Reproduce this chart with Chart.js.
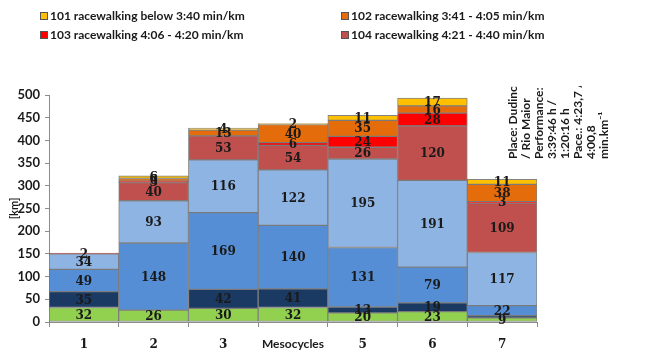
<!DOCTYPE html>
<html>
<head>
<meta charset="utf-8">
<script src="https://cdn.jsdelivr.net/npm/chart.js@4"></script>
<style>
  html, body { margin: 0; padding: 0; background: #fff; }
  #wrap { width: 650px; height: 356px; position: relative; }
</style>
</head>
<body>
<div id="wrap"><canvas id="c" width="650" height="356"></canvas></div>
<script>
// Mesocycle categories and weekly volume (km) per pace zone, stacked bottom to top
const mesocycles = ['1', '2', '3', '4', '5', '6', '7'];
const zoneA   = [32, 26, 30, 32, 20, 23, 9];      // green base
const zoneB   = [35, 0, 42, 41, 13, 19, 5];       // dark navy
const zoneC   = [49, 148, 169, 140, 131, 79, 22]; // mid blue
const zoneD   = [34, 93, 116, 122, 195, 191, 117];// light blue
const zone104 = [2, 40, 53, 54, 26, 120, 109];
const zone103 = [0, 3, 0, 6, 24, 28, 3];
const zone102 = [0, 6, 13, 40, 35, 16, 38];
const zone101 = [0, 6, 4, 2, 11, 17, 11];

const noteLines = ['Place: Dudince', '/ Rio Maior', 'Performance:', '3:39:46 h /',
                   '1:20:16 h', 'Pace.: 4:23,7 /', '4:00,8', 'min.km\u207B\u00B9'];

const INK = '#1a1a1a';
const EDGE = 'rgba(110,110,110,0.85)';

function ds(label, data, color, inLegend) {
  return { label, data, backgroundColor: color, borderColor: EDGE, borderWidth: 1,
           borderSkipped: false, barPercentage: 1, categoryPercentage: 1, inLegend };
}

const datasets = [
  ds('Zone A', zoneA, '#92d050', false),
  ds('Zone B', zoneB, '#1b3a63', false),
  ds('Zone C', zoneC, '#558ed5', false),
  ds('Zone D', zoneD, '#8eb4e3', false),
  ds('104 racewalking 4:21 - 4:40 min/km', zone104, '#c0504d', true),
  ds('103 racewalking 4:06 - 4:20 min/km', zone103, '#ff0000', true),
  ds('102 racewalking 3:41 - 4:05 min/km', zone102, '#e46c0a', true),
  ds('101 racewalking below 3:40 min/km', zone101, '#ffc000', true)
];

// legend order: two columns, two rows
const legendOrder = [7, 6, 5, 4];

const segmentLabels = {
  id: 'segmentLabels',
  afterDatasetsDraw(chart) {
    const ctx = chart.ctx;
    ctx.save();
    ctx.font = 'bold 12px "DejaVu Serif"';
    ctx.fillStyle = INK;
    ctx.textAlign = 'center';
    ctx.textBaseline = 'middle';
    chart.data.datasets.forEach((d, di) => {
      const meta = chart.getDatasetMeta(di);
      meta.data.forEach((bar, i) => {
        const v = d.data[i];
        if (!v || (di === 1 && i === 6)) return;
        ctx.fillText(String(v), bar.x, (bar.y + bar.base) / 2 + 1);
      });
    });
    ctx.restore();
  }
};

const sideDecor = {
  id: 'sideDecor',
  afterDraw(chart) {
    const ctx = chart.ctx;
    ctx.save();
    // legend
    ctx.font = 'bold 12px Lato';
    ctx.textBaseline = 'middle';
    ctx.textAlign = 'left';
    const cols = [40, 341], rows = [16, 35];
    legendOrder.forEach((di, k) => {
      const d = chart.data.datasets[di];
      const x = cols[k % 2], y = rows[Math.floor(k / 2)];
      ctx.fillStyle = d.backgroundColor;
      ctx.fillRect(x, y - 4, 8, 8);
      ctx.strokeStyle = '#555';
      ctx.lineWidth = 1;
      ctx.strokeRect(x + 0.5, y - 3.5, 7, 7);
      ctx.fillStyle = INK;
      ctx.fillText(d.label, x + 10, y);
    });
    // rotated note at right
    ctx.beginPath();
    ctx.rect(500, 86, 150, 120);
    ctx.clip();
    ctx.font = 'bold 12px Lato';
    noteLines.forEach((t, i) => {
      ctx.save();
      ctx.translate(513 + i * 13, 159);
      ctx.rotate(-Math.PI / 2);
      ctx.textAlign = 'left';
      ctx.textBaseline = 'middle';
      ctx.fillStyle = INK;
      ctx.fillText(t, 0, 0);
      ctx.restore();
    });
    ctx.restore();
  }
};

new Chart(document.getElementById('c'), {
  type: 'bar',
  data: { labels: mesocycles, datasets },
  options: {
    responsive: false,
    animation: false,
    devicePixelRatio: 1,
    layout: { padding: { top: 95, right: 113, bottom: 0, left: 0 } },
    plugins: { legend: { display: false }, tooltip: { enabled: false } },
    scales: {
      x: {
        stacked: true,
        offset: true,
        grid: { drawOnChartArea: false, drawTicks: true, tickLength: 5, color: '#8c8c8c', offset: true },
        border: { color: '#8c8c8c' },
        ticks: {
          font: { family: 'DejaVu Serif', weight: 'bold', size: 12 },
          color: INK, padding: 11,
          callback: (v, i) => (i === 3 ? '' : mesocycles[i])
        },
        title: {
          display: true, text: 'Mesocycles', color: INK,
          font: { family: 'Lato', weight: 'bold', size: 12 },
          padding: { top: 0, bottom: 4.8 }
        },
        afterFit: s => { s.height = 34; }
      },
      y: {
        stacked: true,
        min: 0, max: 500,
        grid: { drawOnChartArea: false, drawTicks: true, tickLength: 4, color: '#8c8c8c' },
        border: { color: '#8c8c8c' },
        ticks: {
          stepSize: 50, color: INK, padding: 5,
          font: { family: 'Lato', weight: 'bold', size: 13 }
        },
        title: {
          display: true, text: '[km]', color: INK,
          font: { family: 'Lato', weight: 'bold', size: 11 },
          padding: { top: 7.4, bottom: 0 }
        },
        afterFit: s => { s.width = 49; }
      }
    }
  },
  plugins: [segmentLabels, sideDecor]
});
</script>
</body>
</html>
